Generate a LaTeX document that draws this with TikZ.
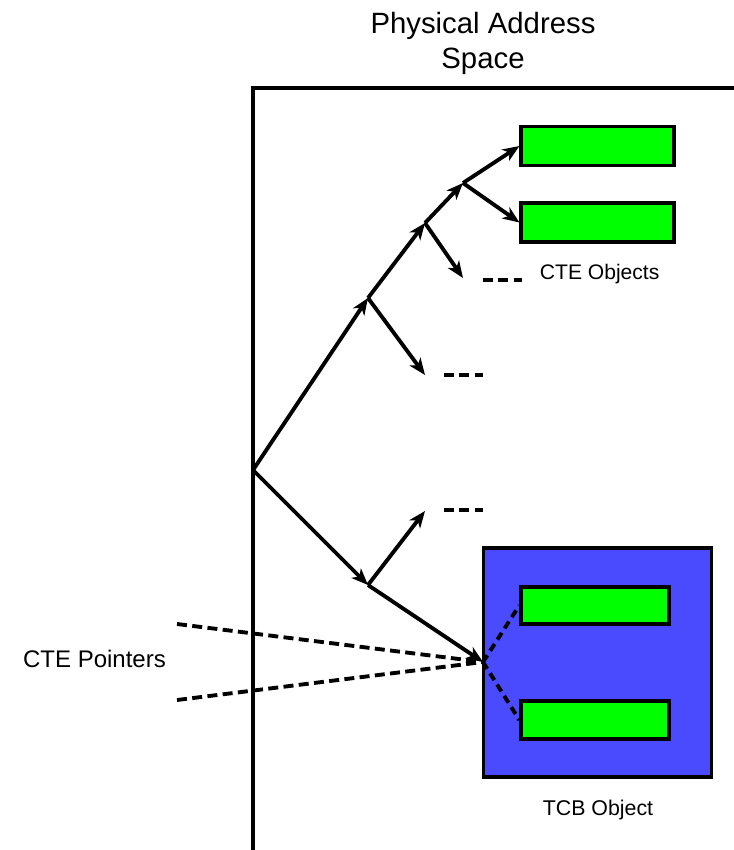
\documentclass[tikz,border=0pt]{standalone}
\usepackage{fontspec}
\setmainfont{Liberation Sans}
\usetikzlibrary{arrows.meta}
\definecolor{cteGreen}{RGB}{0,255,0}
\definecolor{tcbBlue}{RGB}{74,74,255}
\begin{document}
\begin{tikzpicture}[x=0.75pt,y=-0.75pt,
  line width=2.9pt,
  ptr/.style={-{Stealth[length=12.5pt,width=10pt,inset=3.5pt]}},
  dots/.style={dash pattern=on 7.5pt off 4pt},
  obj/.style={draw,fill=cteGreen,line width=2.6pt,minimum width=116pt,minimum height=29pt,inner sep=0pt},
  lbl/.style={inner sep=0pt,anchor=base}]
\useasboundingbox (0,0) rectangle (734,850);

% address space frame
\draw (736,88) -- (253,88) -- (253,852);
\node[lbl,font=\fontsize{22}{26}\selectfont] (t1) at (483,33) {Physical Address};
\node[lbl,font=\fontsize{22}{26}\selectfont] (t2) at (483,68) {Space};

% CTE objects
\node[obj,minimum width=114.5pt] (o1) at (597.5,146) {};
\node[obj,minimum width=114.5pt] (o2) at (597.5,222.5) {};
\node[lbl,anchor=base west,font=\fontsize{15.8}{19}\selectfont] (lo) at (538,279) {CTE Objects};

% TCB object
\node[draw,fill=tcbBlue,line width=2.6pt,minimum width=171pt,minimum height=171.5pt,inner sep=0pt] (tcb) at (597.5,662.5) {};
\node[obj,minimum width=111pt,minimum height=27.5pt] (i1) at (595,605.5) {};
\node[obj,minimum width=111pt,minimum height=28.5pt] (i2) at (595,720) {};
\node[lbl,font=\fontsize{16}{19}\selectfont] (lt) at (598,815) {TCB Object};

% tree of pointers
\coordinate (r) at (253,470);
\coordinate (a) at (368,298);
\coordinate (b) at (425,223);
\coordinate (c) at (463,183);
\coordinate (d) at (463,278);
\coordinate (e) at (425,375);
\coordinate (f) at (368,585);
\coordinate (g) at (425,511);
\coordinate (h) at (483,662);

\draw[ptr] (r) -- (a);
\draw[ptr] (a) -- (b);
\draw[ptr] (b) -- (c);
\draw[ptr] (c) -- (o1.west);
\draw[ptr] (c) -- (o2.west);
\draw[ptr] (b) -- (d);
\draw[ptr] (a) -- (e);
\draw[ptr] (r) -- (f);
\draw[ptr] (f) -- (g);
\draw[ptr] (f) -- (h);

% elided entries
\coordinate (d1) at (483,280); \coordinate (d2) at (522,280);
\coordinate (e1) at (444,375); \coordinate (e2) at (483,375);
\coordinate (g1) at (444,510); \coordinate (g2) at (483,510);
\draw[dots] (d1) -- (d2);
\draw[dots] (e1) -- (e2);
\draw[dots] (g1) -- (g2);

% links inside the TCB
\draw[dash pattern=on 6pt off 4pt] (h) -- (i1.west);
\draw[dash pattern=on 6pt off 4pt] (h) -- (i2.west);

% CTE pointers
\coordinate (p1) at (177,624);
\coordinate (p2) at (177,700);
\draw[dots] (p1) -- (h);
\draw[dots] (p2) -- (h);
\node[lbl,font=\fontsize{18}{22}\selectfont] (lp) at (94.5,667) {CTE Pointers};
\end{tikzpicture}
\end{document}
